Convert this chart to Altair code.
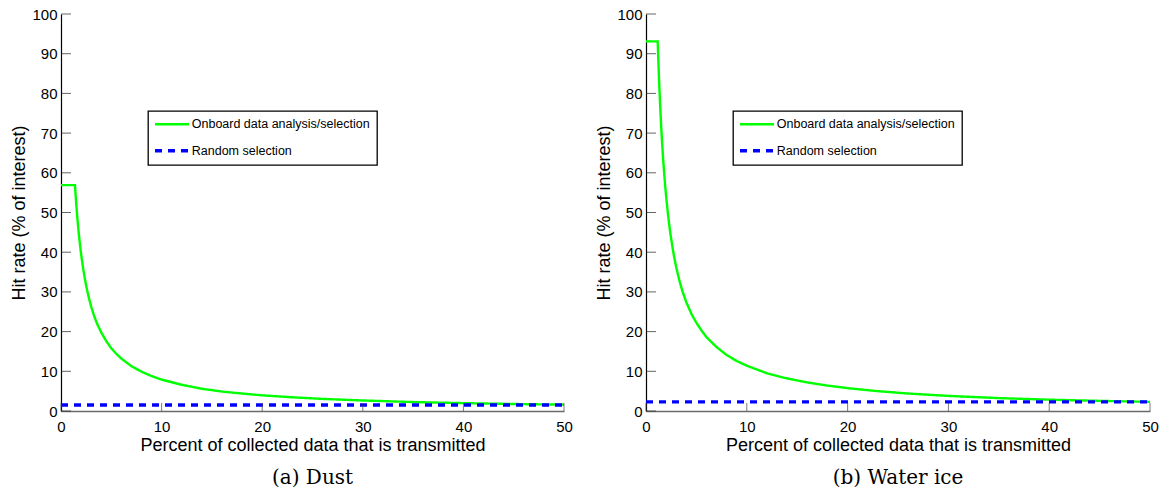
import altair as alt
import pandas as pd

ONBOARD = "Onboard data analysis/selection"
RANDOM = "Random selection"

# Panel (a) Dust
dust_x = [0, 1.39, 1.45, 1.5, 1.6, 1.7, 1.8, 1.9, 2.0, 2.2, 2.4, 2.6, 2.8, 3.0, 3.3, 3.6,
          4.0, 4.5, 5, 5.5, 6, 7, 8, 9, 10, 12, 14, 16, 18, 20, 23, 26, 30, 35, 40, 45, 50]
dust_hit = [56.9, 56.9, 54.5, 52.7, 49.4, 46.5, 43.9, 41.6, 39.5, 35.9, 32.9, 30.4, 28.2, 26.3,
            23.9, 21.9, 19.8, 17.6, 15.8, 14.4, 13.2, 11.3, 9.9, 8.8, 7.9, 6.6, 5.6, 4.9, 4.4,
            3.95, 3.45, 3.05, 2.65, 2.25, 1.98, 1.76, 1.6]
dust_random = 1.5

# Panel (b) Water ice
ice_x = [0, 1.16, 1.2, 1.3, 1.4, 1.5, 1.6, 1.7, 1.8, 1.9, 2.0, 2.2, 2.4, 2.6, 2.8, 3.0, 3.3,
         3.6, 4.0, 4.5, 5, 5.5, 6, 7, 8, 9, 10, 12, 14, 16, 18, 20, 23, 26, 30, 35, 40, 45, 50]
ice_hit = [93.1, 93.1, 90.0, 83.1, 77.1, 72.0, 67.5, 63.5, 60.0, 56.8, 54.0, 49.1, 45.0, 41.7,
           38.7, 36.2, 33.0, 30.3, 27.4, 24.5, 22.2, 20.3, 18.6, 16.1, 14.1, 12.6, 11.4, 9.5,
           8.2, 7.2, 6.4, 5.75, 5.0, 4.4, 3.8, 3.25, 2.85, 2.55, 2.3]
ice_random = 2.3

random_x = [0, 50]
x_ticks = [0, 10, 20, 30, 40, 50]
y_ticks = [0, 10, 20, 30, 40, 50, 60, 70, 80, 90, 100]

X_TITLE = "Percent of collected data that is transmitted"
Y_TITLE = "Hit rate (% of interest)"
FONT = "Liberation Sans"


def panel(xs, ys, rnd, caption, width):
    df = pd.DataFrame({
        "x": list(xs) + random_x,
        "y": list(ys) + [rnd, rnd],
        "series": [ONBOARD] * len(xs) + [RANDOM] * len(random_x),
    })
    xscale = alt.Scale(domain=[0, 50], nice=False, zero=False)
    yscale = alt.Scale(domain=[0, 100], nice=False)
    xaxis = alt.Axis(values=x_ticks, title=X_TITLE, domainColor="#6a6a6a",
                     domainWidth=1.6, labelPadding=8, titlePadding=2,
                     labelFlush=False, labelOverlap=False, ticks=False, grid=False)
    yaxis = alt.Axis(values=y_ticks, tickCount=11, title=Y_TITLE, domainColor="black",
                     domainWidth=1.2, labelPadding=4, titlePadding=3,
                     labelFlush=False, labelOverlap=False, ticks=False, grid=False)
    leg = alt.Legend(title=None, orient="none", legendX=87, legendY=97)

    lines = alt.Chart(df).mark_line(clip=True).encode(
        x=alt.X("x:Q", scale=xscale, axis=xaxis),
        y=alt.Y("y:Q", scale=yscale, axis=yaxis),
        color=alt.Color("series:N",
                        scale=alt.Scale(domain=[ONBOARD, RANDOM], range=["#00ff00", "#0000ff"]),
                        legend=leg),
        strokeDash=alt.StrokeDash("series:N",
                                  scale=alt.Scale(domain=[ONBOARD, RANDOM], range=[[1, 0], [7, 6]]),
                                  legend=leg),
        strokeWidth=alt.StrokeWidth("series:N",
                                    scale=alt.Scale(domain=[ONBOARD, RANDOM], range=[2.4, 3.4]),
                                    legend=None),
        order=alt.Order("series:N"),
    )

    xt = alt.Chart(pd.DataFrame({"x": x_ticks, "y": [0] * len(x_ticks)})).mark_tick(
        orient="vertical", size=8, thickness=1, yOffset=-4, color="#444"
    ).encode(x=alt.X("x:Q", scale=xscale, axis=xaxis),
             y=alt.Y("y:Q", scale=yscale, axis=yaxis))

    yt = alt.Chart(pd.DataFrame({"y": y_ticks, "x": [0] * len(y_ticks)})).mark_tick(
        orient="horizontal", size=10, thickness=1, xOffset=5, color="#222"
    ).encode(y=alt.Y("y:Q", scale=yscale, axis=yaxis),
             x=alt.X("x:Q", scale=xscale, axis=xaxis))

    return alt.layer(lines, xt, yt).properties(
        width=width, height=397,
        title=alt.TitleParams(caption, orient="bottom", frame="group", anchor="middle",
                              font="DejaVu Serif", fontSize=20, fontWeight="normal",
                              color="black", offset=14),
    )


chart = alt.hconcat(
    panel(dust_x, dust_hit, dust_random, "(a) Dust", 503),
    panel(ice_x, ice_hit, ice_random, "(b) Water ice", 504),
    spacing=22,
).resolve_scale(color="independent", strokeDash="independent", strokeWidth="independent").properties(
    padding={"left": 10, "top": 7, "right": 2, "bottom": 2},
    background="white",
).configure_view(stroke=None).configure_axis(
    grid=False, ticks=False, labelFont=FONT, labelFontSize=15, labelColor="black",
    titleFont=FONT, titleFontSize=18, titleFontWeight="normal", titleColor="black",
    labelOverlap=False,
).configure_legend(
    strokeColor="black", fillColor="white", padding=7, rowPadding=12.5, cornerRadius=0,
    symbolType="M-4,0H4", symbolSize=72.25, symbolStrokeWidth=3, symbolOffset=10.75,
    labelFont=FONT, labelFontSize=12.5, labelColor="black", labelOffset=13.5,
    labelLimit=0, strokeWidth=1.3,
)

chart.save("out.html", embed_options={"renderer": "svg", "actions": False})
